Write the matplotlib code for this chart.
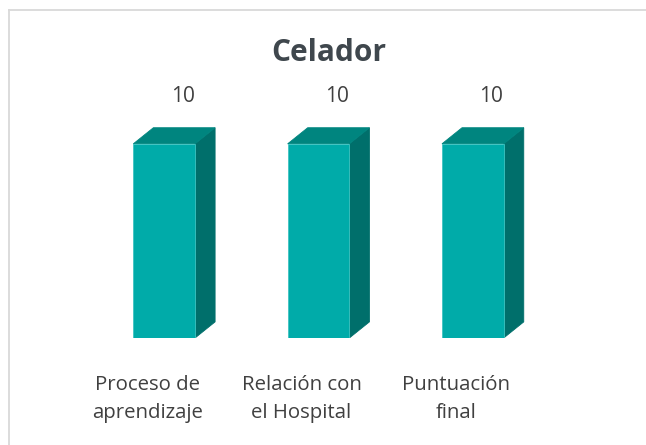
import numpy as np
import matplotlib
matplotlib.use('Agg')
import matplotlib.pyplot as plt
from matplotlib.patches import Polygon
from matplotlib.lines import Line2D

# datos del grafico
titulo = 'Celador'
categorias = ['Proceso de\naprendizaje', 'Relación con\nel Hospital', 'Puntuación\nfinal']
valores = [10, 10, 10]

plt.rcParams['font.family'] = ['Open Sans', 'DejaVu Sans']

fig = plt.figure(figsize=(6.46, 4.45), dpi=100)
fig.patch.set_facecolor('white')

# borde del area del grafico (solo se ve arriba y a la izquierda)
borde = dict(color='#D9D9D9', lw=1.3, transform=fig.transFigure)
fig.add_artist(Line2D([9/646, 1.0], [1 - 10/445, 1 - 10/445], **borde))
fig.add_artist(Line2D([9/646, 9/646], [0.0, 1 - 10/445], **borde))

ax = fig.add_axes([87/646, 107/445, 463/646, 233/445])
ax.set_xlim(-0.5, 2.5)
ax.set_ylim(0, 12)
ax.axis('off')

ancho = 0.4
dx = 0.13   # profundidad 3D
dy = 0.83

c_frente = '#00ABA9'
c_arriba = '#00857F'
c_lado = '#006F6B'

x = np.arange(len(valores))
for xi, v in zip(x, valores):
    x0 = xi - ancho / 2
    x1 = xi + ancho / 2
    frente = Polygon([(x0, 0), (x1, 0), (x1, v), (x0, v)], closed=True,
                     fc=c_frente, ec='#3FC4C2', lw=0.6)
    arriba = Polygon([(x0, v), (x1, v), (x1 + dx, v + dy), (x0 + dx, v + dy)],
                     closed=True, fc=c_arriba, ec=c_arriba, lw=0.6)
    lado = Polygon([(x1, 0), (x1 + dx, dy), (x1 + dx, v + dy), (x1, v)],
                   closed=True, fc=c_lado, ec=c_lado, lw=0.6)
    ax.add_patch(lado)
    ax.add_patch(arriba)
    ax.add_patch(frente)
    ax.text(xi + 0.12, v + 2.45, str(v), ha='center', va='center',
            fontsize=15, color='#404040', clip_on=False)

trans = ax.get_xaxis_transform()
for xi, cat in zip(x, categorias):
    ax.text(xi - 0.11, -0.16, cat, ha='center', va='top', fontsize=14.7,
            color='#404040', linespacing=1.5, transform=trans, clip_on=False)

fig.text(0.509, 1 - 53/445, titulo, ha='center', va='center',
         fontsize=21.5, fontweight='bold', color='#3F474D')

fig.savefig('out.png', dpi=100)
